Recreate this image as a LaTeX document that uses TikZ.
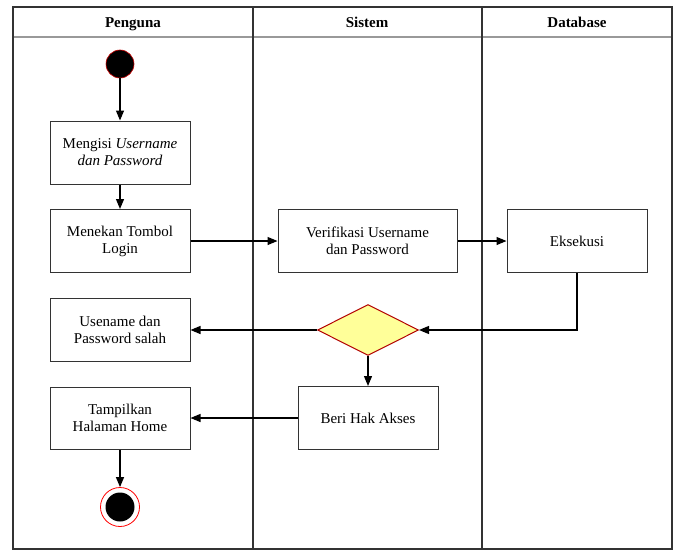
\documentclass[tikz,border=0pt]{standalone}
\usepackage{fontspec}
\setmainfont{Liberation Serif}
\usetikzlibrary{arrows.meta,shapes.geometric}
\definecolor{boxline}{HTML}{333333}
\definecolor{decfill}{HTML}{FFFF99}
\definecolor{decline}{HTML}{B20000}
\tikzset{
  actbox/.style={draw=boxline,line width=1pt,fill=white,minimum width=140pt,minimum height=63pt,align=center,inner sep=2pt,font=\fontsize{15}{17}\selectfont},
  flow/.style={draw=black,line width=1.2pt,-{Triangle[length=10pt,width=8pt]}},
  lanehead/.style={font=\fontsize{15}{17}\selectfont\bfseries,anchor=base}
}
\begin{document}
\begin{tikzpicture}[x=1pt,y=-1pt]
\useasboundingbox (0,0) rectangle (680,551);
% swimlanes
\draw[gray!80,line width=1.5pt] (13,37) -- (672,37);
\draw[boxline,line width=1.2pt] (253,7) -- (253,549);
\draw[boxline,line width=1.2pt] (482,7) -- (482,549);
\draw[black!80,line width=1.8pt] (13,7) rectangle (672,549);
\node[lanehead] (h1) at (133,27.5) {Penguna};
\node[lanehead] (h2) at (367,27.5) {Sistem};
\node[lanehead] (h3) at (577,27.5) {Database};
% nodes
\node[circle,fill=black,draw=red!80!black,line width=0.6pt,minimum size=28pt,inner sep=0] (start) at (120,64) {};
\node[actbox] (n1) at (120,152.5) {Mengisi \textit{Username}\\\textit{dan Password}};
\node[actbox] (n2) at (120,241) {Menekan Tombol\\Login};
\node[actbox,minimum width=179pt] (n3) at (367.5,241) {Verifikasi Username\\dan Password};
\node[actbox] (n4) at (577,241) {Eksekusi};
\node[diamond,draw=decline,fill=decfill,line width=1pt,minimum width=101pt,minimum height=51pt,inner sep=0] (d) at (368,330) {};
\node[actbox] (n5) at (120,330) {Usename dan\\Password salah};
\node[actbox,minimum height=62pt] (n6) at (120,418) {Tampilkan\\Halaman Home};
\node[actbox] (n7) at (368,418) {Beri Hak Akses};
\node[circle,fill=white,draw=red,line width=0.8pt,minimum size=39pt,inner sep=0] (endo) at (120,507) {};
\node[circle,fill=black,minimum size=29pt,inner sep=0] (endi) at (120,507) {};
% connectors
\draw[flow] (start) -- (n1);
\draw[flow] (n1) -- (n2);
\draw[flow] (n2) -- (n3);
\draw[flow] (n3) -- (n4);
\draw[flow] (n4.south) |- (d.east);
\draw[flow] (d.west) -- (n5.east);
\draw[flow] (d.south) -- (n7.north);
\draw[flow] (n7.west) -- (n6.east);
\draw[flow] (n6.south) -- (endo.north);
\end{tikzpicture}
\end{document}
